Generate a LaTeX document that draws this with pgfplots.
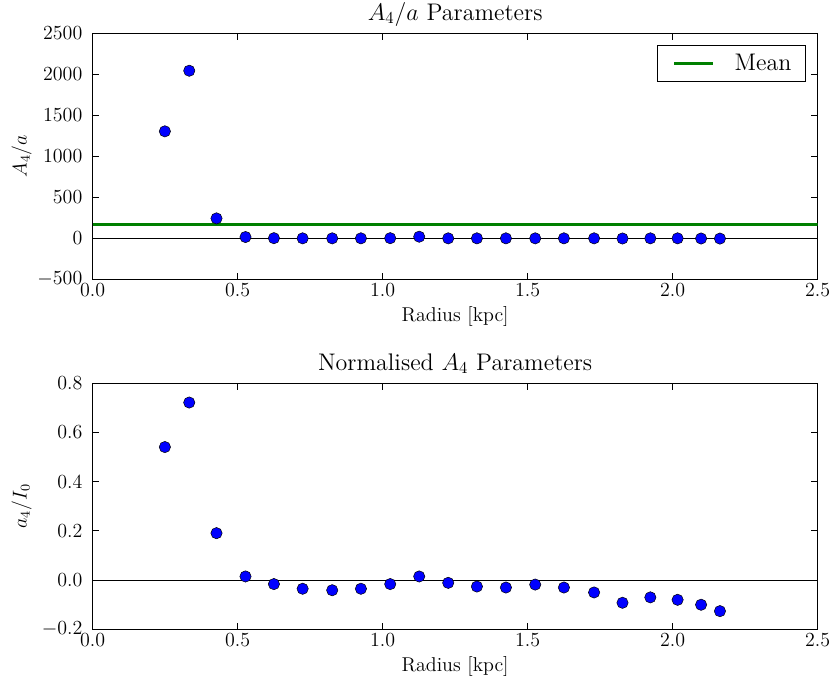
\documentclass[border=0pt,12pt]{standalone}
\usepackage{pgfplots}
\pgfplotsset{compat=1.18}
\definecolor{mplgreen}{rgb}{0,0.5,0}
\pgfplotsset{
  panel/.style={
    scale only axis,
    width=435pt, height=147.6pt,
    xmin=0, xmax=2.5,
    xtick={0,0.5,1,1.5,2,2.5},
    xticklabel style={/pgf/number format/fixed, /pgf/number format/fixed zerofill, /pgf/number format/precision=1, anchor=base, yshift=-10pt},
    tick align=inside,
    major tick length=4pt,
    every tick/.style={black, line width=0.6pt},
    axis line style={line width=0.9pt},
    yticklabel style={anchor=east, xshift=-2pt},
    xlabel={Radius [kpc]},
    xlabel style={at={(axis description cs:0.5,-0.1707)}, anchor=base},
    ylabel style={at={(axis description cs:-0.098,0.5)}, anchor=center},
    title style={at={(axis description cs:0.5,1.0528)}, anchor=base, yshift=-6pt, font=\large},
    clip=true,
  },
  dots/.style={only marks, mark=*, mark size=3.4pt, mark options={fill=blue, draw=black, line width=0.3pt}},
}
\begin{document}
\begin{tikzpicture}
\useasboundingbox (0,0) rectangle (499.2pt,-409.2pt);
\begin{axis}[panel,
  at={(55.6pt,-167.6pt)}, anchor=south west,
  ymin=-500, ymax=2500,
  ytick={-500,0,500,1000,1500,2000,2500},
  yticklabel style={/pgf/number format/1000 sep={}},
  ylabel={$A_4/a$},
  title={$A_4/a$ Parameters},
  legend style={at={(rel axis cs:0.984,0.951)}, anchor=north east, draw=black, line width=0.6pt, inner xsep=2pt, inner ysep=2pt, font=\large, nodes={inner xsep=6.5pt, inner ysep=3pt}},
  legend image code/.code={\path[draw=none] (-8pt,0pt) -- (29.6pt,0pt); \draw[#1] (0pt,0pt) -- (23pt,0pt);},
]
\addplot[black, line width=0.7pt, forget plot] coordinates {(0,0) (2.5,0)};
\addplot[mplgreen, line width=1.8pt] coordinates {(0,173) (2.5,173)};
\addlegendentry{Mean}
\addplot[dots, forget plot] coordinates {
(0.249,1305) (0.333,2044) (0.427,243) (0.527,16) (0.625,2) (0.724,0)
(0.826,0) (0.925,0) (1.026,2) (1.126,20) (1.226,0) (1.325,0)
(1.425,0) (1.526,0) (1.625,0) (1.729,0) (1.827,-2) (1.923,0)
(2.017,0) (2.098,-2) (2.163,-3)
};
\end{axis}
\begin{axis}[panel,
  at={(55.6pt,-377.6pt)}, anchor=south west,
  ymin=-0.2, ymax=0.8,
  ytick={-0.2,0,0.2,0.4,0.6,0.8},
  yticklabel style={/pgf/number format/fixed, /pgf/number format/fixed zerofill, /pgf/number format/precision=1},
  ylabel={$a_4/I_0$},
  title={Normalised $A_4$ Parameters},
]
\addplot[black, line width=0.7pt] coordinates {(0,0) (2.5,0)};
\addplot[dots] coordinates {
(0.249,0.541) (0.333,0.722) (0.427,0.191) (0.527,0.015) (0.625,-0.016) (0.724,-0.035)
(0.826,-0.041) (0.925,-0.035) (1.026,-0.016) (1.126,0.015) (1.226,-0.011) (1.325,-0.026)
(1.425,-0.030) (1.526,-0.018) (1.625,-0.030) (1.729,-0.050) (1.827,-0.092) (1.923,-0.070)
(2.017,-0.080) (2.098,-0.100) (2.163,-0.126)
};
\end{axis}
\end{tikzpicture}
\end{document}
